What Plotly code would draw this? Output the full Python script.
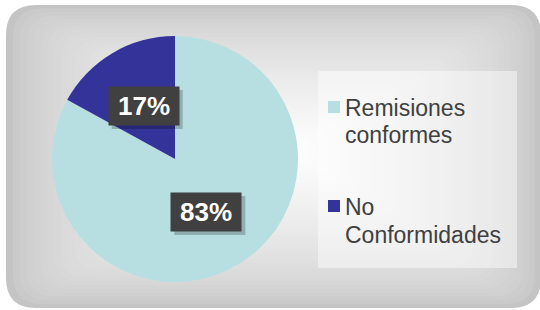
import math
import plotly.graph_objects as go

categories = ["Remisiones conformes", "No Conformidades"]
legend_lines = [["Remisiones", "conformes"], ["No", "Conformidades"]]
values = [83, 17]
colors = ["#B7DFE2", "#333399"]

W, H = 540, 310


def px(x):
    return x / W


def py(y):
    return 1 - y / H


def rrect(x0, y0, x1, y1, r):
    r = min(r, (x1 - x0) / 2, (y1 - y0) / 2)
    pts = [
        f"M {px(x0 + r)},{py(y0)}",
        f"L {px(x1 - r)},{py(y0)}",
        f"Q {px(x1)},{py(y0)} {px(x1)},{py(y0 + r)}",
        f"L {px(x1)},{py(y1 - r)}",
        f"Q {px(x1)},{py(y1)} {px(x1 - r)},{py(y1)}",
        f"L {px(x0 + r)},{py(y1)}",
        f"Q {px(x0)},{py(y1)} {px(x0)},{py(y1 - r)}",
        f"L {px(x0)},{py(y0 + r)}",
        f"Q {px(x0)},{py(y0)} {px(x0 + r)},{py(y0)}",
        "Z",
    ]
    return " ".join(pts)


shapes = []
# background panel with approximated radial gradient
bx0, by0, bx1, by1 = 6, 5, 541, 308
gcx, gcy = 290, 150
steps = 40
for i in range(steps):
    t = i / steps
    x0 = bx0 + (gcx - bx0) * t * 0.97
    x1 = bx1 - (bx1 - gcx) * t * 0.97
    y0 = by0 + (gcy - by0) * t * 0.97
    y1 = by1 - (by1 - gcy) * t * 0.97
    c = int(196 + (254 - 196) * (t ** 0.6))
    shapes.append(dict(type="path", xref="paper", yref="paper", layer="below",
                       path=rrect(x0, y0, x1, y1, 24 * (1 - t) + 6),
                       fillcolor=f"rgb({c},{c},{c})", line=dict(width=0)))

# legend box
shapes.append(dict(type="rect", xref="paper", yref="paper", layer="below",
                   x0=px(318), x1=px(517), y0=py(268), y1=py(71),
                   fillcolor="rgba(255,255,255,0.45)", line=dict(width=0)))

# pie geometry
cx, cy, R = 175, 159, 123
fig = go.Figure(go.Pie(
    labels=categories, values=values, sort=False, direction="clockwise",
    rotation=0, marker=dict(colors=colors, line=dict(width=0)),
    textinfo="none", hoverinfo="label+percent", showlegend=False,
    domain=dict(x=[px(cx - R), px(cx + R)], y=[py(cy + R), py(cy - R)]),
))

annotations = []
total = sum(values)
cum = 0
for v in values:
    mid = (cum + v / 2) / total * 2 * math.pi
    cum += v
    lx = cx + 0.5 * R * math.sin(mid)
    ly = cy - 0.5 * R * math.cos(mid)
    # shadow
    shapes.append(dict(type="rect", xref="paper", yref="paper", layer="above",
                       x0=px(lx - 35 + 3), x1=px(lx + 35 + 4), y0=py(ly + 19 + 4), y1=py(ly - 19 + 3),
                       fillcolor="rgba(0,0,0,0.22)", line=dict(width=0)))
    annotations.append(dict(
        x=px(lx), y=py(ly), xref="paper", yref="paper", showarrow=False,
        text=f"<b>{round(v / total * 100)}%</b>", width=70, height=38,
        bgcolor="#404040", borderpad=0,
        font=dict(family="Arial, Liberation Sans", size=26, color="white"),
        xanchor="center", yanchor="middle"))

# manual legend
leg_y = [107, 206]
for lines, col, yy in zip(legend_lines, colors, leg_y):
    shapes.append(dict(type="rect", xref="paper", yref="paper", layer="above",
                       x0=px(328), x1=px(340), y0=py(yy + 6), y1=py(yy - 6),
                       fillcolor=col, line=dict(width=0)))
    for k, line in enumerate(lines):
        annotations.append(dict(
            x=px(343), y=py(yy + 1 + 27.5 * k), xref="paper", yref="paper", showarrow=False,
            text=line, align="left", xanchor="left", yanchor="middle",
            font=dict(family="Arial, Liberation Sans", size=23, color="#404040")))

fig.update_layout(
    width=W, height=H, margin=dict(l=0, r=0, t=0, b=0),
    paper_bgcolor="white", plot_bgcolor="white",
    shapes=shapes, annotations=annotations,
)

fig.write_html("out.html", config={"displayModeBar": False},
               post_script="document.body.style.margin='0';document.body.style.overflow='hidden';")
